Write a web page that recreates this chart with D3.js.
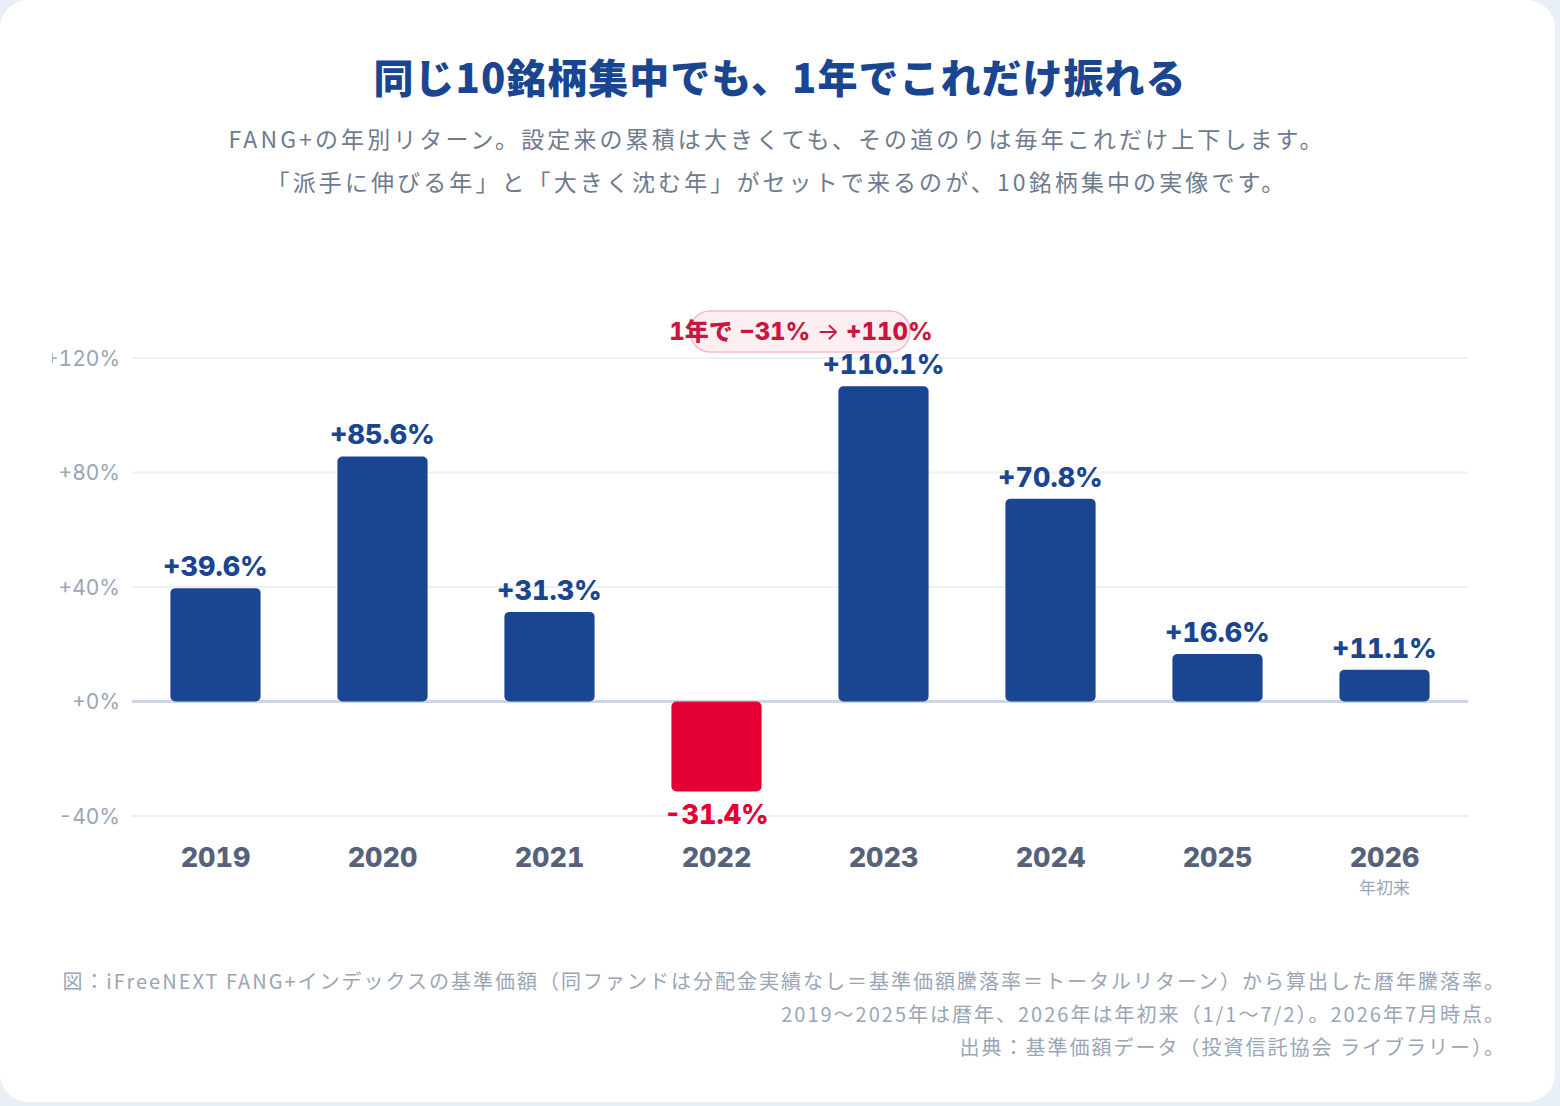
<!DOCTYPE html>
<html>
  <head>
    <meta charset="utf-8">
    <title>FANG+ annual returns</title>
    <script src="https://cdn.jsdelivr.net/npm/d3@7"></script>
    <style>
      html, body { margin: 0; padding: 0; background: #e9eff7; }
      svg { display: block; }
      .jp { font-family: "Noto Sans CJK JP", "Noto Sans", sans-serif; }
      .num { font-family: Inter, "Noto Sans CJK JP", sans-serif; font-variant-numeric: tabular-nums; }
    </style>
  </head>

  <body>
    <svg id="page" width="1560" height="1106"></svg>

    <script>
      // data
      const years = ["2019", "2020", "2021", "2022", "2023", "2024", "2025", "2026"];
      const returns = [39.6, 85.6, 31.3, -31.4, 110.1, 70.8, 16.6, 11.1];
      const yTicks = [-40, 0, 40, 80, 120];
      const subLabels = { "2026": "年初来" };

      const title = "同じ10銘柄集中でも、1年でこれだけ振れる";
      const subtitle = [
        "FANG+の年別リターン。設定来の累積は大きくても、その道のりは毎年これだけ上下します。",
        "「派手に伸びる年」と「大きく沈む年」がセットで来るのが、10銘柄集中の実像です。"
      ];
      const notes = [
        "図：iFreeNEXT FANG+インデックスの基準価額（同ファンドは分配金実績なし＝基準価額騰落率＝トータルリターン）から算出した暦年騰落率。",
        "2019〜2025年は暦年、2026年は年初来（1/1〜7/2）。2026年7月時点。",
        "出典：基準価額データ（投資信託協会 ライブラリー）。"
      ];

      // colours
      const blue = "#1a4590";
      const red = "#e40032";
      const grey = "#9aa5b7";

      const page = d3.select("#page");

      // card
      page.append("rect")
        .attr("x", 0).attr("y", 0)
        .attr("width", 1555).attr("height", 1102)
        .attr("rx", 28)
        .attr("fill", "#ffffff");

      // header
      page.append("text")
        .attr("class", "jp")
        .attr("x", 780).attr("y", 93)
        .attr("text-anchor", "middle")
        .attr("fill", blue)
        .style("font-size", "40px")
        .style("font-weight", 900)
        .style("letter-spacing", "1px")
        .text(title);

      page.selectAll(".sub")
        .data(subtitle)
        .enter().append("text")
          .attr("class", "sub jp")
          .attr("x", 777)
          .attr("y", (d, i) => 148 + i * 43)
          .attr("text-anchor", "middle")
          .attr("fill", "#6e7b8f")
          .style("font-size", "23px")
          .style("letter-spacing", "3.1px")
          .text(d => d);

      // chart area, clipped at its left edge like the original
      const chart = page.append("svg")
        .attr("x", 52).attr("y", 0)
        .attr("width", 1508).attr("height", 1106)
        .append("g")
          .attr("transform", "translate(-52, 0)");

      const x = d3.scaleBand()
        .domain(years)
        .range([132, 1468])
        .paddingInner(0.46)
        .paddingOuter(0.23);

      const y = d3.scaleLinear()
        .domain([-40, 120])
        .range([816, 358]);

      // grid
      chart.selectAll(".grid")
        .data(yTicks)
        .enter().append("line")
          .attr("x1", 132).attr("x2", 1468)
          .attr("y1", d => y(d)).attr("y2", d => y(d))
          .attr("stroke", d => d === 0 ? "#cdd6e3" : "#edf1f6")
          .attr("stroke-width", d => d === 0 ? 3 : 2);

      chart.selectAll(".tick")
        .data(yTicks)
        .enter().append("text")
          .attr("class", "num")
          .attr("x", 120)
          .attr("y", d => y(d) + 7.5)
          .attr("text-anchor", "end")
          .attr("fill", grey)
          .style("font-size", "21px")
          .text(d => (d < 0 ? "-" + Math.abs(d) : "+" + d) + "%");

      // bars
      const data = years.map((yr, i) => ({ year: yr, value: returns[i] }));

      chart.selectAll(".bar")
        .data(data)
        .enter().append("rect")
          .attr("x", d => x(d.year))
          .attr("y", d => y(Math.max(0, d.value)))
          .attr("width", x.bandwidth())
          .attr("height", d => Math.abs(y(d.value) - y(0)))
          .attr("rx", 5)
          .attr("fill", d => d.value < 0 ? red : blue);

      chart.selectAll(".val")
        .data(data)
        .enter().append("text")
          .attr("class", "num")
          .attr("x", d => x(d.year) + x.bandwidth() / 2)
          .attr("y", d => d.value < 0 ? y(d.value) + 33 : y(d.value) - 12)
          .attr("text-anchor", "middle")
          .attr("fill", d => d.value < 0 ? red : blue)
          .style("font-size", "27px")
          .style("font-weight", 800)
          .text(d => (d.value < 0 ? "-" + Math.abs(d.value).toFixed(1) : "+" + d.value.toFixed(1)) + "%");

      // x labels
      chart.selectAll(".year")
        .data(years)
        .enter().append("text")
          .attr("class", "num")
          .attr("x", d => x(d) + x.bandwidth() / 2)
          .attr("y", 867)
          .attr("text-anchor", "middle")
          .attr("fill", "#56627a")
          .style("font-size", "27px")
          .style("font-weight", 800)
          .text(d => d);

      chart.selectAll(".yearSub")
        .data(years.filter(d => subLabels[d]))
        .enter().append("text")
          .attr("class", "jp")
          .attr("x", d => x(d) + x.bandwidth() / 2)
          .attr("y", 894)
          .attr("text-anchor", "middle")
          .attr("fill", grey)
          .style("font-size", "17px")
          .text(d => subLabels[d]);

      // annotation between 2022 and 2023
      const annX = (x("2022") + x("2023") + x.bandwidth()) / 2;
      chart.append("rect")
        .attr("x", annX - 110).attr("y", 311)
        .attr("width", 220).attr("height", 41)
        .attr("rx", 20)
        .attr("fill", "#fdeef2")
        .attr("stroke", "#f3bccb")
        .attr("stroke-width", 1.5);

      const ann = chart.append("text")
        .attr("class", "num")
        .attr("x", annX + 1).attr("y", 340)
        .attr("text-anchor", "middle")
        .attr("fill", "#c8173e")
        .style("font-size", "24px")
        .style("font-weight", 800);
      ann.append("tspan").text("1年で −31% ");
      ann.append("tspan").style("font-weight", 400).text("→");
      ann.append("tspan").text(" +110%");

      // footnotes
      page.selectAll(".note")
        .data(notes)
        .enter().append("text")
          .attr("class", "jp")
          .attr("x", 1506)
          .attr("y", (d, i) => 989 + i * 33)
          .attr("text-anchor", "end")
          .attr("fill", grey)
          .style("font-size", "20px")
          .style("letter-spacing", "2px")
          .text(d => d);
    </script>
  </body>
</html>
